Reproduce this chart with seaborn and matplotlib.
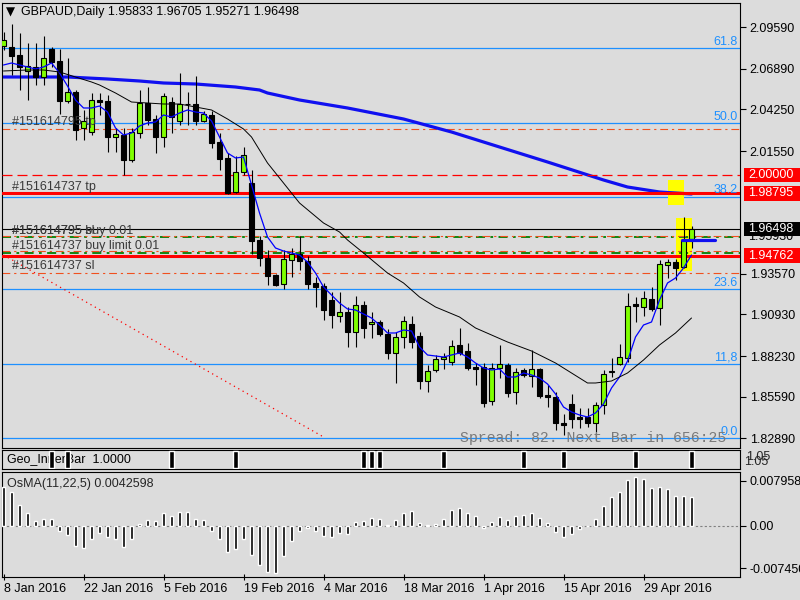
import matplotlib
matplotlib.use("Agg")
import matplotlib.pyplot as plt
import matplotlib.transforms as mtransforms
from matplotlib.patches import Rectangle
import numpy as np
import pandas as pd
import seaborn as sns

# GBPAUD daily bars, 8 Jan 2016 .. 9 May 2016
opens = [2.08375, 2.08310, 2.07790, 2.06751, 2.07011, 2.06361, 2.08180, 2.07400, 2.04801, 2.05386,
         2.03047, 2.02787, 2.04866, 2.04801, 2.02462, 2.02592, 2.00968, 2.02722, 2.04671, 2.03632,
         2.02462, 2.04736, 2.03502, 2.04606, 2.04606, 2.03502, 2.03892, 2.02137, 2.01098, 1.98888,
         2.00188, 1.99473, 1.95770, 1.94600, 1.93495, 1.92911, 1.94470, 1.94860, 1.94405, 1.92976,
         1.92781, 1.91871, 1.90831, 1.91091, 1.89792, 1.91546, 1.90311, 1.90441, 1.89662, 1.88427,
         1.89467, 1.90311, 1.89532, 1.86608, 1.87323, 1.88037, 1.87842, 1.88947, 1.88557, 1.87517,
         1.87517, 1.85308, 1.87452, 1.87647, 1.85893, 1.87323, 1.86933, 1.87388, 1.85698, 1.85568,
         1.83879, 1.85113, 1.84269, 1.84269, 1.83879, 1.85048, 1.87193, 1.87712, 1.88102, 1.91611,
         1.91416, 1.91936, 1.91351, 1.94145, 1.94340, 1.94015, 1.95833]
highs = [2.09285, 2.09805, 2.09220, 2.08570, 2.08570, 2.09025, 2.08310, 2.08180, 2.07595, 2.05516,
         2.04217, 2.05321, 2.05321, 2.05191, 2.03047, 2.03047, 2.03047, 2.05516, 2.05711, 2.03892,
         2.05321, 2.05061, 2.06621, 2.05386, 2.06426, 2.04152, 2.04152, 2.02722, 2.01423, 2.01228,
         2.01812, 2.00318, 1.96029, 1.95120, 1.93560, 1.95120, 1.95250, 1.96029, 1.94730, 1.93365,
         1.92976, 1.92391, 1.92391, 1.91416, 1.92131, 1.91806, 1.91091, 1.90571, 1.89987, 1.89792,
         1.90831, 1.90831, 1.89792, 1.87647, 1.88297, 1.88427, 1.89272, 1.90052, 1.89077, 1.87777,
         1.87777, 1.87777, 1.88947, 1.87777, 1.87452, 1.87452, 1.88622, 1.87452, 1.86348, 1.85893,
         1.84464, 1.85763, 1.84853, 1.84853, 1.85243, 1.87323, 1.88102, 1.89012, 1.92326, 1.92066,
         1.92456, 1.92716, 1.94470, 1.94535, 1.94535, 1.97264, 1.96705]
lows = [2.08115, 2.06491, 2.05516, 2.04866, 2.05841, 2.05841, 2.07011, 2.03957, 2.04671, 2.02267,
        2.02267, 2.02592, 2.03892, 2.01488, 2.01488, 1.99993, 2.00838, 2.02397, 2.03242, 2.01423,
        2.01812, 2.02722, 2.03242, 2.03242, 2.03242, 2.03437, 2.01747, 2.00318, 1.98759, 1.98823,
        1.99993, 1.94860, 1.94080, 1.92846, 1.92781, 1.92586, 1.93365, 1.93820, 1.92586, 1.91416,
        1.90571, 1.90052, 1.90441, 1.88817, 1.88817, 1.89402, 1.89402, 1.89532, 1.88037, 1.86478,
        1.88752, 1.88752, 1.86088, 1.85893, 1.87193, 1.87388, 1.87647, 1.88297, 1.87323, 1.86348,
        1.84918, 1.85048, 1.86803, 1.85568, 1.85113, 1.86868, 1.86218, 1.85503, 1.84918, 1.83424,
        1.83099, 1.83554, 1.83554, 1.83619, 1.82969, 1.84464, 1.86868, 1.87647, 1.87842, 1.90441,
        1.90831, 1.91156, 1.90246, 1.93300, 1.93170, 1.93950, 1.95271]
closes = [2.08765, 2.07725, 2.07011, 2.07076, 2.06361, 2.07595, 2.07335, 2.04801, 2.05386, 2.02917,
          2.03502, 2.04866, 2.04736, 2.02462, 2.02657, 2.00968, 2.02787, 2.04671, 2.03567, 2.02462,
          2.05126, 2.03762, 2.04606, 2.04574, 2.03502, 2.03957, 2.02072, 2.01033, 1.98823, 2.00188,
          2.01293, 1.95705, 1.94600, 1.93430, 1.92846, 1.94535, 1.94860, 1.94405, 1.92911, 1.92716,
          1.91221, 1.90896, 1.91091, 1.89792, 1.91546, 1.90052, 1.90441, 1.89662, 1.88427, 1.89467,
          1.90506, 1.89142, 1.86608, 1.87258, 1.88037, 1.88167, 1.88882, 1.88427, 1.87452, 1.87388,
          1.85178, 1.87452, 1.87712, 1.85828, 1.87193, 1.86998, 1.87388, 1.85633, 1.85568, 1.83879,
          1.83749, 1.84139, 1.84139, 1.83879, 1.85048, 1.87063, 1.87258, 1.88167, 1.91481, 1.91481,
          1.92001, 1.91286, 1.94210, 1.94340, 1.93950, 1.95770, 1.96498]

# thin blue moving average, one value per bar
fast_ma = [2.07141, 2.07270, 2.07141, 2.07011, 2.06881, 2.07011, 2.07270, 2.06621, 2.05776, 2.04866,
           2.04347, 2.04347, 2.04476, 2.04087, 2.03047, 2.02592, 2.02722, 2.03177, 2.03372, 2.03437,
           2.03892, 2.03762, 2.04022, 2.04217, 2.04087, 2.04022, 2.03502, 2.02462, 2.01423, 2.01098,
           2.01163, 1.99343, 1.97524, 1.95965, 1.95250, 1.95055, 1.94925, 1.94795, 1.94340, 1.93625,
           1.92716, 1.92196, 1.91676, 1.91286, 1.91221, 1.90961, 1.90701, 1.90246, 1.89727, 1.89727,
           1.89922, 1.89857, 1.88817, 1.88297, 1.88232, 1.88167, 1.88297, 1.88427, 1.88167, 1.87777,
           1.87452, 1.87323, 1.87388, 1.86868, 1.86868, 1.87128, 1.86998, 1.86803, 1.86413, 1.85763,
           1.84918, 1.84594, 1.84399, 1.84269, 1.84529, 1.85113, 1.86153, 1.86868, 1.87907, 1.89467,
           1.90246, 1.90441, 1.91871, 1.92976, 1.93300, 1.93950, 1.94795]

# thin black moving average, read at these bars
slow_ma_bars = [0, 3, 5, 7, 9, 11, 12, 14, 16, 18, 20, 22, 24, 26, 28, 30, 31, 32, 33, 35,
                37, 40, 42, 43, 45, 48, 50, 52, 54, 57, 59, 63, 66, 69, 71, 73, 74, 76, 78, 80,
                82, 84, 86]
slow_ma = [2.06751, 2.06816, 2.06816, 2.06686, 2.06361, 2.06036, 2.05841, 2.05321, 2.04736, 2.04671,
           2.04606, 2.04606, 2.04412, 2.04217, 2.03632, 2.02982, 2.02462, 2.01617, 2.00773, 1.99473,
           1.98174, 1.96874, 1.96289, 1.95770, 1.94925, 1.93625, 1.92976, 1.92066, 1.91416, 1.90766,
           1.90052, 1.89142, 1.88557, 1.87777, 1.87128, 1.86478, 1.86478, 1.86608, 1.87128, 1.87972,
           1.88947, 1.89727, 1.90701]

# thick blue moving average
long_ma_bars = [0, 4, 8, 13, 17, 20, 24, 29, 32, 33, 37, 43, 50, 56, 62, 68, 75, 78, 82, 86]
long_ma = [2.06361, 2.06361, 2.06361, 2.06231, 2.06101, 2.05971, 2.05906, 2.05711, 2.05516, 2.05321,
           2.04866, 2.04347, 2.03632, 2.02787, 2.01812, 2.00838, 1.99668, 1.99213, 1.98888, 1.98759]

osma = [0.0068, 0.00592, 0.00369, 0.00234, 0.00094, 0.00123, 0.00123, -0.00082, -0.00158, -0.00351,
        -0.00392, -0.00234, -0.00129, -0.00199, -0.00228, -0.00363, -0.00234, 0.00035, 0.00105, 0.00088,
        0.00234, 0.00176, 0.00252, 0.0024, 0.00117, 0.00105, -0.00082, -0.00234, -0.00451, -0.0041,
        -0.00234, -0.0051, -0.00685, -0.00802, -0.0082, -0.00527, -0.00258, -0.00082, -0.00041, -0.00082,
        -0.00176, -0.00187, -0.00117, -0.00141, 0.00064, 0.00088, 0.00135, 0.00117, 0.00018, 0.00105,
        0.00223, 0.00264, 0.00047, 0.0001, 0.0003, 0.00123, 0.00281, 0.00316, 0.00234, 0.00176,
        -0.00041, 0.00076, 0.00152, 0.00105, 0.00176, 0.00193, 0.00223, 0.00135, 0.00059, -0.00111,
        -0.00187, -0.00141, -0.00059, 0.0, 0.00123, 0.00351, 0.00504, 0.00597, 0.00808, 0.00855,
        0.00826, 0.00673, 0.00679, 0.0065, 0.00527, 0.00527, 0.00504]

geo_bars = [6, 8, 21, 29, 45, 46, 47, 55, 65, 70, 79, 86]
geo_vals = [1.0] * len(geo_bars)

fib_levels = [1.82884, 1.87712, 1.92566, 1.98563, 2.03352, 2.08226]
fib_names = ["0.0", "11,8", "23.6", "38.2", "50.0", "61.8"]

red_levels = [1.98795, 1.94762]
red_dash_level = 2.00000
sltp_levels = [2.02982, 1.93606]
order_levels = [1.95932, 1.94957]
bid_price = 1.96498

trend_bars = [0, 40]
trend_prices = [1.94795, 1.82969]

box_bars = [(83, 85), (84, 86)]
box_prices = [(1.98044, 1.99668), (1.93755, 1.97199)]
seg_bars = [84.8, 88.9]
seg_price = 1.95770

order_labels = [("#151614795 tp", 2.02982), ("#151614737 tp", 1.98795),
                ("#151614795 buy 0.01", 1.95932), ("#151614795 sl", 1.95932),
                ("#151614737 buy limit 0.01", 1.94957), ("#151614737 sl", 1.93606)]

price_ticks = [2.0959, 2.0689, 2.0425, 2.0155, 1.9357, 1.9093, 1.8823, 1.8559, 1.8289]
boxed_prices = [2.00000, 1.98795, 1.96498, 1.94762]
boxed_colors = ["red", "red", "black", "red"]

osma_ticks = [0.0079586, 0.0, -0.00745]
osma_tick_labels = ["0.0079586", "0.00", "-0.007450"]

date_ticks = [0, 10, 20, 30, 40, 50, 60, 70, 80]
date_labels = ["8 Jan 2016", "22 Jan 2016", "5 Feb 2016", "19 Feb 2016", "4 Mar 2016",
               "18 Mar 2016", "1 Apr 2016", "15 Apr 2016", "29 Apr 2016"]

BG = "#DCDCDC"
BULL = "#80FF00"
FIB = "#1E90FF"
ORANGE = "#F0501E"


def main():
    sns.set_theme(style="white", rc={"axes.facecolor": BG, "figure.facecolor": BG,
                                     "axes.edgecolor": "black", "axes.linewidth": 0.8})
    plt.rcParams["font.family"] = ["Liberation Sans", "DejaVu Sans"]

    fig = plt.figure(figsize=(8, 6), dpi=100)

    def place(x0, y0, x1, y1):
        return [x0 / 800, 1 - y1 / 600, (x1 - x0) / 800, (y1 - y0) / 600]

    ax = fig.add_axes(place(2, 3, 740, 448))
    ax_geo = fig.add_axes(place(2, 450, 740, 469))
    ax_osma = fig.add_axes(place(2, 472, 740, 577))
    xlim = (-0.19, 92.06)

    # ---- price panel
    df = pd.DataFrame({"open": opens, "high": highs, "low": lows, "close": closes})
    df["i"] = np.arange(len(df))
    up = df["close"] >= df["open"]
    lo = df[["open", "close"]].min(axis=1)
    hi = df[["open", "close"]].max(axis=1)

    for (b0, b1), (p0, p1) in zip(box_bars, box_prices):
        ax.add_patch(Rectangle((b0, p0), b1 - b0, p1 - p0, color="#FFFF00", lw=0, zorder=1.5))

    for lvl in fib_levels:
        ax.axhline(lvl, color=FIB, lw=0.9, zorder=1)
    blend = mtransforms.blended_transform_factory(ax.transAxes, ax.transData)
    for lvl, name in zip(fib_levels, fib_names):
        ax.text(0.997, lvl + 0.0004, name, transform=blend, ha="right", va="bottom",
                color=FIB, fontsize=9, zorder=7)

    sns.lineplot(x=long_ma_bars, y=long_ma, ax=ax, color="#1010F0", lw=2.3, zorder=2.5)

    for lvl in sltp_levels:
        ax.axhline(lvl, color=ORANGE, lw=0.8, ls=(0, (7, 3.5, 2, 3.5)), zorder=2)
    for lvl in order_levels:
        ax.axhline(lvl, color="#008000", lw=1.3, ls=(0, (5, 3, 1.5, 3)), zorder=2)
        ax.axhline(lvl + 0.0007, color=ORANGE, lw=0.8, ls=(0, (7, 3.5, 2, 3.5)), zorder=2)
    ax.axhline(bid_price, color="black", lw=0.8, zorder=2)
    ax.axhline(red_dash_level, color="red", lw=0.9, ls=(0, (8, 4)), zorder=3)
    for lvl in red_levels:
        ax.axhline(lvl, color="red", lw=2.2, zorder=3)

    ax.plot(trend_bars, trend_prices, color="red", lw=0.9, ls=(0, (1, 3)), zorder=3)
    ax.plot(seg_bars, [seg_price, seg_price], color="#1010F0", lw=2.3, zorder=6, clip_on=False)

    ax.vlines(df["i"], df["low"], df["high"], color="black", lw=0.8, zorder=4)
    ax.bar(df["i"], hi - lo, bottom=lo, width=0.7, color=np.where(up, BULL, "black"),
           edgecolor="black", linewidth=0.8, zorder=5)

    sns.lineplot(x=df["i"], y=fast_ma, ax=ax, color="#0000FF", lw=0.9, zorder=6)
    sns.lineplot(x=slow_ma_bars, y=slow_ma, ax=ax, color="black", lw=0.7, zorder=6)

    for text, lvl in order_labels:
        ax.text(0.0136, lvl + 0.0006, text, transform=blend, ha="left", va="bottom",
                color="#3A3A3A", fontsize=9, zorder=7)

    ax.text(0.6206, 0.0225, "Spread: 82. Next Bar in 656:25", transform=ax.transAxes,
            family=["Liberation Mono", "DejaVu Sans Mono"], fontsize=10.7, color="#7A7A7A",
            va="center", ha="left", zorder=7)

    ax.set_xlim(*xlim)
    ax.set_ylim(1.82254, 2.11169)
    ax.set_xlabel("")
    ax.set_ylabel("")
    ax.set_xticks([])
    ax.yaxis.tick_right()
    ax.set_yticks(price_ticks)
    ax.set_yticklabels([f"{p:.5f}" for p in price_ticks])
    ax.tick_params(axis="y", right=True, left=False, direction="out", length=4, width=0.8,
                   pad=3, labelsize=9, colors="black")

    # order price label partly hidden under the bid box
    ax.text(1.0108, order_levels[0], f"{order_levels[0]:.4f}0", transform=blend,
            ha="left", va="center", fontsize=9, color="black", clip_on=False, zorder=8)
    for p, c in zip(boxed_prices, boxed_colors):
        ax.add_patch(Rectangle((1.0054, p - 0.0047), 0.076, 0.0094, transform=blend,
                               color=c, lw=0, clip_on=False, zorder=9))
        ax.text(1.0108, p, f"{p:.5f}", transform=blend, ha="left", va="center",
                fontsize=9, color="white", clip_on=False, zorder=10)

    # ---- Geo_InnerBar panel
    ax_geo.text(0.0068, 0.5, "Geo_InnerBar  1.0000", transform=ax_geo.transAxes,
                fontsize=9, va="center", ha="left", color="black", zorder=1)
    ax_geo.bar(geo_bars, geo_vals, width=0.6, color="black", zorder=3)
    ax_geo.set_xlim(*xlim)
    ax_geo.set_ylim(-0.08, 1.08)
    ax_geo.set_xticks([])
    ax_geo.set_yticks([])
    ax_geo.text(1.008, 0.62, "1.05", transform=ax_geo.transAxes, fontsize=9,
                va="center", ha="left", clip_on=False)
    ax_geo.text(1.006, 0.35, "1.05", transform=ax_geo.transAxes, fontsize=9,
                va="center", ha="left", clip_on=False)

    # ---- OsMA panel
    ax_osma.axhline(0, color="#808080", lw=0.8, ls=(0, (2, 2)), zorder=1)
    ax_osma.bar(np.arange(len(osma)), osma, width=0.45, color="black", zorder=3)
    ax_osma.text(0.0068, 0.886, "OsMA(11,22,5) 0.0042598", transform=ax_osma.transAxes,
                 fontsize=9, va="center", ha="left")
    ax_osma.set_xlim(*xlim)
    ax_osma.set_ylim(-0.00896, 0.009487)
    ax_osma.yaxis.tick_right()
    ax_osma.set_yticks(osma_ticks)
    ax_osma.set_yticklabels(osma_tick_labels)
    ax_osma.tick_params(axis="y", right=True, left=False, direction="out", length=4, width=0.8,
                        pad=3, labelsize=9, colors="black")
    ax_osma.set_xticks(date_ticks)
    ax_osma.set_xticklabels(date_labels)
    for t in ax_osma.get_xticklabels():
        t.set_horizontalalignment("left")
    ax_osma.tick_params(axis="x", bottom=True, direction="inout", length=5, width=0.8,
                        pad=2, labelsize=9, colors="black")

    for a in (ax, ax_geo, ax_osma):
        for s in a.spines.values():
            s.set_color("black")
            s.set_linewidth(0.8)

    # ---- header
    fig.text(6 / 800, 1 - 12 / 600, "\u25BC", fontsize=8.5, family="DejaVu Sans",
             va="center", ha="left", color="black")
    fig.text(21 / 800, 1 - 12 / 600, "GBPAUD,Daily 1.95833 1.96705 1.95271 1.96498",
             fontsize=9, va="center", ha="left", color="black")

    fig.savefig("out.png", dpi=100, facecolor=BG)


if __name__ == "__main__":
    main()
